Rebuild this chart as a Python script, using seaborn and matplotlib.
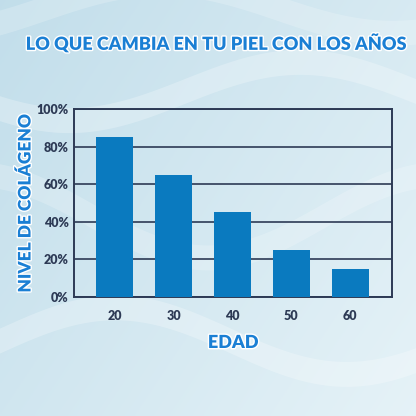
import numpy as np
import pandas as pd
import matplotlib
matplotlib.use("Agg")
import matplotlib.pyplot as plt
import matplotlib.patheffects as pe
import seaborn as sns

edades = ["20", "30", "40", "50", "60"]
colageno = [85, 65, 45, 25, 15]
yticks = [0, 20, 40, 60, 80, 100]
ytick_labels = ["0%", "20%", "40%", "60%", "80%", "100%"]

df = pd.DataFrame({"edad": edades, "colageno": colageno})

sns.set_theme(style="white")
plt.rcParams['font.family'] = ['Lato', 'DejaVu Sans']

fig = plt.figure(figsize=(4.16, 4.16), dpi=100)

# background gradient with soft waves
bg = fig.add_axes([0, 0, 1, 1])
bg.set_axis_off()
xx, yy = np.meshgrid(np.linspace(0, 1, 200), np.linspace(0, 1, 200))
grad = 0.6 * xx + 0.4 * (1 - yy)
base = np.array([0.76, 0.87, 0.92])
light = np.array([0.90, 0.95, 0.97])
img = base[None, None, :] * (1 - grad[..., None]) + light[None, None, :] * grad[..., None]
bg.imshow(img, extent=[0, 1, 0, 1], origin="lower", aspect="auto")
t = np.linspace(0, 1, 200)
for k, (off, amp, a) in enumerate([(0.15, 0.08, 0.25), (0.45, 0.1, 0.2), (0.75, 0.07, 0.25), (0.95, 0.06, 0.2)]):
    y1 = off + amp * np.sin(2 * np.pi * (t * 0.9 + k * 0.3))
    bg.fill_between(t, y1, y1 + 0.06, color="white", alpha=a, lw=0)
bg.set_xlim(0, 1)
bg.set_ylim(0, 1)

ax = fig.add_axes([74 / 416, 1 - 297 / 416, 318 / 416, 188 / 416])
ax.patch.set_alpha(0)
sns.barplot(data=df, x="edad", y="colageno", color="#0a7abf", saturation=1,
            width=0.63, ax=ax, zorder=3, linewidth=0)
ax.set_ylim(0, 100)
ax.set_xlim(-0.69, 4.71)
ax.set_yticks(yticks)
ax.set_yticklabels(ytick_labels)
ax.yaxis.grid(True, color="#2d3a55", lw=1.2, zorder=1)
ax.set_axisbelow(True)
for s in ax.spines.values():
    s.set_visible(True)
    s.set_color("#2d3a55")
    s.set_linewidth(1.4)
ax.tick_params(axis="both", length=0, labelsize=9, labelcolor="#2d3a55")
ax.tick_params(axis="x", pad=9)
ax.tick_params(axis="y", pad=4)
for lab in ax.get_xticklabels() + ax.get_yticklabels():
    lab.set_fontweight("heavy")

outline = [pe.withStroke(linewidth=2, foreground="white")]
ax.set_xlabel("EDAD", fontsize=13, fontweight="heavy", color="#1a7fd4", labelpad=9,
              path_effects=outline)
ax.set_ylabel("NIVEL DE COLÁGENO", fontsize=12.5, fontweight="heavy", color="#1a7fd4",
              labelpad=2, path_effects=outline)

fig.text(0.516, 1 - 43 / 416, "LO QUE CAMBIA EN TU PIEL CON LOS AÑOS", ha="center", va="center",
         fontsize=13, fontweight="heavy", color="#1a7fd4", path_effects=outline)

fig.savefig("out.png", dpi=100)
